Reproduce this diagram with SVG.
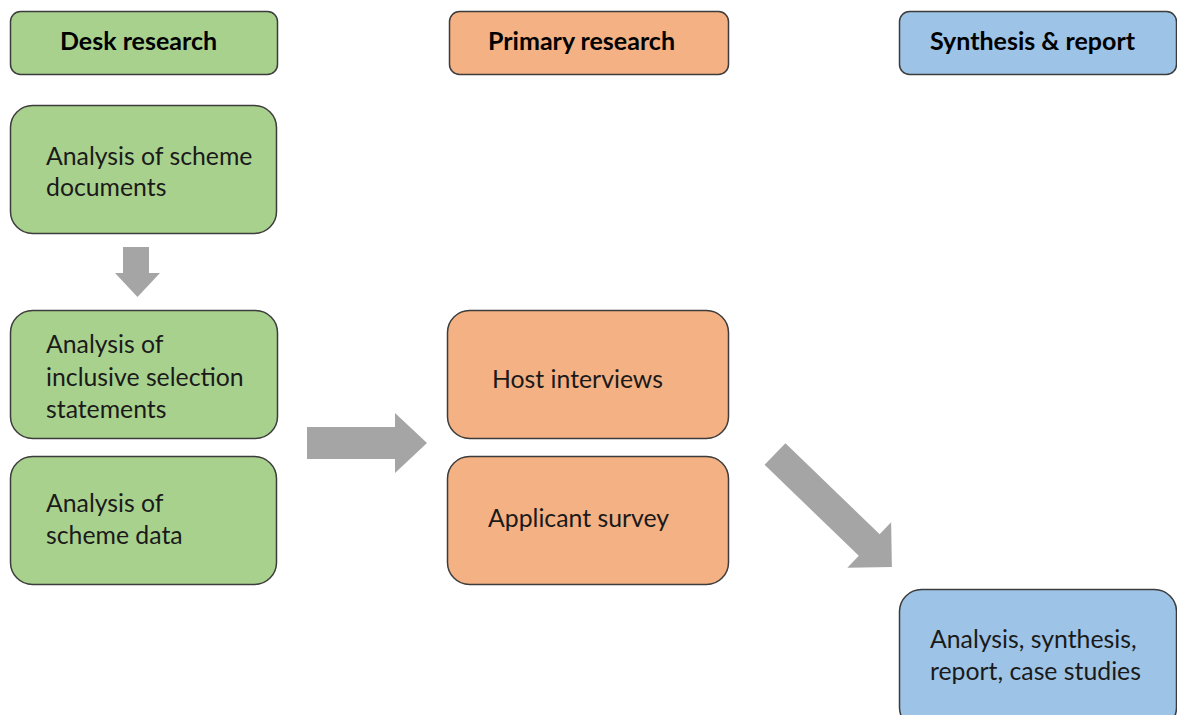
<svg xmlns="http://www.w3.org/2000/svg" width="1177" height="715" viewBox="0 0 1177 715">
<style>
.box{stroke:#3c3c3c;stroke-width:1.5}
.g{fill:#A9D18E}.o{fill:#F4B183}.b{fill:#9DC3E6}
.h{font-family:Lato,"Open Sans",sans-serif;font-weight:bold;font-size:25px;fill:#000}
.t{font-family:Lato,"Open Sans",sans-serif;font-size:24.8px;fill:#1a1a1a}
.arr{fill:#A5A5A5}
</style>
<rect width="1177" height="715" fill="#fff"/>
<g id="desk-header"><rect class="box g" x="10.5" y="11.5" width="267" height="63" rx="10"/><text class="h" x="60" y="50">Desk research</text></g>
<g id="primary-header"><rect class="box o" x="449.5" y="11.5" width="279" height="63" rx="10"/><text class="h" x="488" y="50">Primary research</text></g>
<g id="synthesis-header"><rect class="box b" x="899.5" y="11.5" width="277" height="63" rx="10"/><text class="h" x="930" y="50">Synthesis &amp; report</text></g>
<g id="scheme-documents"><rect class="box g" x="10.5" y="105.5" width="266" height="128" rx="22"/><text class="t" x="46" y="165">Analysis of scheme</text><text class="t" x="46" y="196">documents</text></g>
<g id="inclusive-statements"><rect class="box g" x="10.5" y="310.5" width="267" height="128" rx="22"/><text class="t" x="46" y="353">Analysis of</text><text class="t" x="46" y="385.5">inclusive selection</text><text class="t" x="46" y="418">statements</text></g>
<g id="scheme-data"><rect class="box g" x="10.5" y="456.5" width="266" height="128" rx="22"/><text class="t" x="46" y="512">Analysis of</text><text class="t" x="46" y="544">scheme data</text></g>
<g id="host-interviews"><rect class="box o" x="447.5" y="310.5" width="281" height="128" rx="22"/><text class="t" x="492" y="388">Host interviews</text></g>
<g id="applicant-survey"><rect class="box o" x="447.5" y="456.5" width="281" height="128" rx="22"/><text class="t" x="488" y="527">Applicant survey</text></g>
<g id="analysis-report"><rect class="box b" x="899.5" y="589.5" width="277" height="140" rx="22"/><text class="t" x="930" y="648">Analysis, synthesis,</text><text class="t" x="930" y="680">report, case studies</text></g>
<g id="connectors">
<polygon class="arr" points="123,247 149,247 149,273 160,273 137.5,297 115,273 123,273"/>
<polygon class="arr" points="307,427 395,427 395,413 427,443 395,473 395,459 307,459"/>
<polygon class="arr" transform="translate(775,454) rotate(44)" points="0,-15 131,-15 131,-31.5 162.5,0 131,31.5 131,15 0,15"/>
</g>
</svg>
